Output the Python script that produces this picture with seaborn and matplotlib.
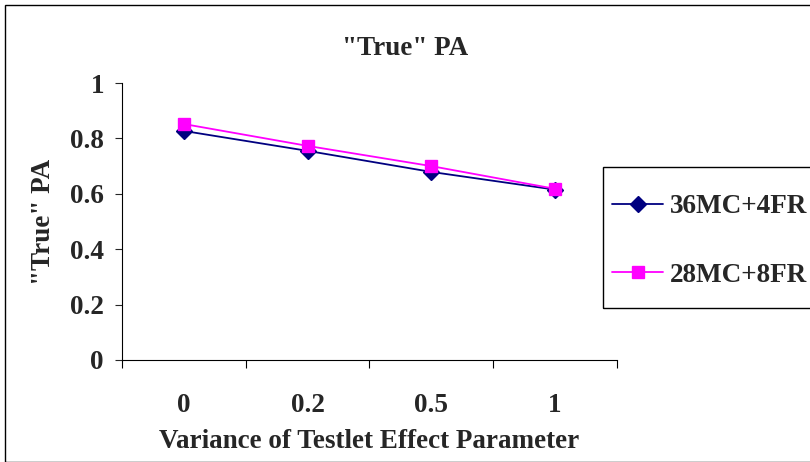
import pandas as pd
import matplotlib
matplotlib.use("Agg")
import matplotlib.pyplot as plt
import matplotlib.patches as mpatches
import seaborn as sns

variance = ["0", "0.2", "0.5", "1"]
pa_36mc_4fr = [0.827, 0.755, 0.679, 0.615]
pa_28mc_8fr = [0.852, 0.773, 0.700, 0.618]
series_names = ["36MC+4FR", "28MC+8FR"]
y_ticks = [0, 0.2, 0.4, 0.6, 0.8, 1]
y_tick_labels = ["0", "0.2", "0.4", "0.6", "0.8", "1"]

df = pd.DataFrame({
    "variance": variance * 2,
    "pa": pa_36mc_4fr + pa_28mc_8fr,
    "design": [series_names[0]] * 4 + [series_names[1]] * 4,
})

sns.set_style("white")
plt.rcParams["font.family"] = ["Liberation Serif", "DejaVu Serif"]
plt.rcParams["font.weight"] = "bold"
FS = 19.5

fig = plt.figure(figsize=(8.1, 4.62), dpi=100)
ax = fig.add_axes([0.1506, 0.2208, 0.6111, 0.5995])

sns.pointplot(data=df, x="variance", y="pa", hue="design", order=variance,
              hue_order=series_names, palette=["#000080", "#FF00FF"],
              markers=["D", "s"], markersize=8, linewidth=1.3, ax=ax,
              legend=True)

ax.set_xlim(-0.5, 3.5)
ax.set_ylim(0, 1)
ax.set_yticks(y_ticks)
ax.set_yticklabels(y_tick_labels, fontsize=FS, fontweight="bold")
ax.set_xticks([-0.5, 0.5, 1.5, 2.5, 3.5])
ax.set_xticklabels([])
ax.set_xticks(range(len(variance)), minor=True)
ax.set_xticklabels(variance, minor=True, fontsize=FS, fontweight="bold")
ax.tick_params(axis="x", which="major", direction="out", length=6, width=0.8, colors="black")
ax.tick_params(axis="x", which="minor", length=0, pad=24)
ax.tick_params(axis="y", direction="out", length=5, width=0.8, pad=8)
ax.xaxis.set_ticks_position("bottom")
ax.yaxis.set_ticks_position("left")

for side in ["top", "right"]:
    ax.spines[side].set_visible(False)
for side in ["left", "bottom"]:
    ax.spines[side].set_color("black")
    ax.spines[side].set_linewidth(0.8)

ax.set_xlabel("Variance of Testlet Effect Parameter", fontsize=FS, fontweight="bold", labelpad=8)
ax.set_ylabel('"True" PA', fontsize=FS, fontweight="bold", labelpad=10)
fig.text(0.50, 0.896, '"True" PA', ha="center", va="center", fontsize=FS, fontweight="bold")

handles, labels = ax.get_legend_handles_labels()
ax.get_legend().remove()
leg = fig.legend(handles, labels, loc="center left",
                 bbox_to_anchor=(612 / 810, 1 - 241 / 462),
                 frameon=False, fontsize=FS, labelspacing=1.6,
                 handlelength=1.9, handletextpad=0.25,
                 borderpad=0, borderaxespad=0)
for t in leg.get_texts():
    t.set_fontweight("bold")

# legend box drawn separately so it can run off the right edge like the original
fig.patches.append(mpatches.Rectangle((603 / 810, 1 - 308 / 462), 0.4, 141 / 462,
                                      transform=fig.transFigure, fill=False,
                                      edgecolor="black", linewidth=1))
fig.patches.append(mpatches.Rectangle((0.006, 0.0), 1.2, 0.989, transform=fig.transFigure,
                                      fill=False, edgecolor="black", linewidth=1))

fig.savefig("out.png", dpi=100)
